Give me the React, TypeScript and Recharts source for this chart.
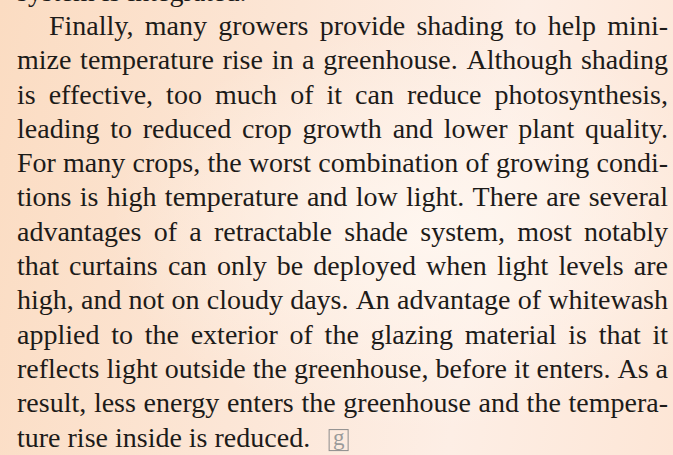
import React from 'react';
import { ScatterChart, Scatter, XAxis, YAxis } from 'recharts';

// one entry per printed line of the page
const lineTexts = [
  'system is integrated.',
  'Finally, many growers provide shading to help mini-',
  'mize temperature rise in a greenhouse. Although shading',
  'is effective, too much of it can reduce photosynthesis,',
  'leading to reduced crop growth and lower plant quality.',
  'For many crops, the worst combination of growing condi-',
  'tions is high temperature and low light. There are several',
  'advantages of a retractable shade system, most notably',
  'that curtains can only be deployed when light levels are',
  'high, and not on cloudy days. An advantage of whitewash',
  'applied to the exterior of the glazing material is that it',
  'reflects light outside the greenhouse, before it enters. As a',
  'result, less energy enters the greenhouse and the tempera-',
  'ture rise inside is reduced.',
];
const lineNumbers = [-1, 0, 1, 2, 3, 4, 5, 6, 7, 8, 9, 10, 11, 12];
const justified = [false, true, true, true, true, true, true, true, true, true, true, true, true, false];
const indented = [false, true, false, false, false, false, false, false, false, false, false, false, false, false];
const endMark = [false, false, false, false, false, false, false, false, false, false, false, false, false, true];

const rows = lineTexts.map((text, i) => ({
  x: 0,
  line: lineNumbers[i],
  text,
  justify: justified[i],
  indent: indented[i],
  mark: endMark[i],
}));

const FONT = "'Liberation Serif', 'Times New Roman', serif";
const SIZE = 28;
const LEFT = 17;
const RIGHT = 668;
const INDENT = 32;

let ctx: CanvasRenderingContext2D | null = null;
const measure = (s: string) => {
  if (!ctx) {
    ctx = document.createElement('canvas').getContext('2d');
  }
  if (!ctx) return s.length * SIZE * 0.45;
  ctx.font = `${SIZE}px ${FONT}`;
  return ctx.measureText(s).width;
};

const TextLine = (props: any) => {
  const { cx, cy, payload } = props;
  const start = cx + LEFT + (payload.indent ? INDENT : 0);
  if (!payload.justify) {
    const w = measure(payload.text);
    return (
      <g>
        <text x={start} y={cy} fontFamily={FONT} fontSize={SIZE} fill="#1d1b19">
          {payload.text}
        </text>
        {payload.mark && (
          <g>
            <rect x={start + w + 19} y={cy - 17} width={19} height={21} fill="none" stroke="#8c8c8c" strokeWidth={1} />
            <text x={start + w + 28.5} y={cy - 2} textAnchor="middle" fontFamily={FONT} fontSize={23} fill="#9a9a9a">
              g
            </text>
          </g>
        )}
      </g>
    );
  }
  const words = payload.text.split(' ');
  const widths = words.map(measure);
  const total = widths.reduce((a: number, b: number) => a + b, 0);
  const gap = (cx + RIGHT - start - total) / (words.length - 1);
  let pos = start;
  return (
    <text y={cy} fontFamily={FONT} fontSize={SIZE} fill="#1d1b19">
      {words.map((w: string, i: number) => {
        const el = (
          <tspan key={i} x={pos}>
            {w}
          </tspan>
        );
        pos += widths[i] + gap;
        return el;
      })}
    </text>
  );
};

export default function App() {
  return (
    <div
      style={{
        position: 'absolute',
        left: 0,
        top: 0,
        width: 673,
        height: 455,
        overflow: 'hidden',
        background:
          'radial-gradient(ellipse 320px 200px at 430px 230px, rgba(255,248,242,0.85), rgba(255,248,242,0) 100%), linear-gradient(100deg, #fbdcc2 0%, #fce6d6 40%, #fdeee5 70%, #fde6d6 100%)',
      }}
    >
      <ScatterChart width={673} height={455} margin={{ top: 0, right: 0, bottom: 0, left: 0 }}>
        <XAxis type="number" dataKey="x" domain={[0, 1]} allowDataOverflow hide />
        <YAxis type="number" dataKey="line" domain={[-1.02, 12.245]} allowDataOverflow reversed hide />
        <Scatter data={rows} shape={TextLine} isAnimationActive={false} />
      </ScatterChart>
    </div>
  );
}
